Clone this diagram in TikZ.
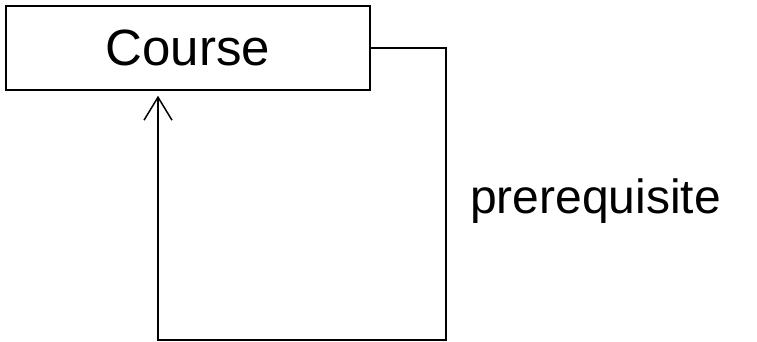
\documentclass[tikz,border=0pt]{standalone}
\usepackage{fontspec}
\setmainfont{Liberation Sans}
\usepackage{tikz}
\usetikzlibrary{arrows.meta}
\usetikzlibrary{calc}

\begin{document}
\begin{tikzpicture}[x=1pt,y=-1pt]%%selfassoc
                \tikzstyle{classbox} = [rectangle, draw, line width=1.5pt, minimum width=364pt, minimum height=84pt, inner sep=0pt, font=\fontsize{51}{60}\selectfont]
                \tikzstyle{rolename} = [anchor=base west, inner sep=0pt, font=\fontsize{48}{58}\selectfont]
                \tikzstyle{assoc}    = [line width=1.5pt, -{Straight Barb[length=23pt,width=28pt,line width=1.5pt]}, shorten >=5pt]
                \useasboundingbox (0,0) rectangle (757,342);
                \node [classbox](course) at (188,48) {Course};
                \coordinate (c1) at (446,48);
                \coordinate (c2) at (446,340);
                \coordinate (c3) at (158,340);
                \draw [assoc] (course.east) -- (c1) -- (c2) -- (c3) -- (course.south -| c3);
                \node [rolename](prereq) at (470,213) {prerequisite};
\end{tikzpicture}
\end{document}
